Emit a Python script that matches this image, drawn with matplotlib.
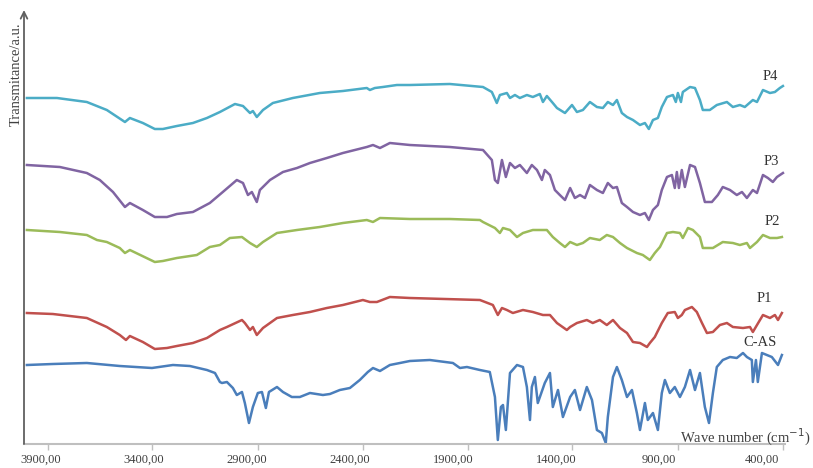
import matplotlib
matplotlib.use("Agg")
import matplotlib.pyplot as plt

plt.rcParams['font.family'] = ['Liberation Serif', 'DejaVu Serif']

# FTIR spectra, wave number (cm-1) and stacked transmittance (a.u.)
p4_wn = [3968, 3822, 3677, 3580, 3492, 3468, 3405, 3347, 3308, 3240, 3162, 3094, 3031, 2958,
         2919, 2885, 2871, 2852, 2822, 2774, 2677, 2546, 2434, 2318, 2303, 2279, 2240, 2172,
         2109, 1915, 1754, 1711, 1687, 1672, 1638, 1623, 1599, 1575, 1541, 1512, 1478, 1463,
         1444, 1415, 1395, 1356, 1322, 1298, 1269, 1235, 1201, 1172, 1148, 1123, 1104, 1080,
         1055, 1026, 992, 968, 949, 929, 905, 886, 861, 832, 818, 808, 793, 784, 749, 725, 701,
         687, 653, 619, 570, 541, 507, 483, 444, 424, 395, 361, 337, 313, 298]
p4_t = [346, 346, 342, 334, 322, 326, 321, 315, 315, 318, 321, 326, 332, 340,
        338, 331, 333, 327, 334, 341, 346, 351, 353, 356, 354, 356, 357, 359,
        359, 360, 357, 352, 341, 349, 351, 346, 349, 346, 349, 347, 350, 342,
        348, 341, 336, 331, 339, 332, 334, 342, 337, 336, 342, 339, 344, 331,
        327, 324, 319, 321, 315, 324, 326, 337, 347, 349, 342, 351, 342, 352, 357, 356, 344,
        334, 334, 339, 342, 337, 339, 337, 344, 342, 354, 351, 352, 356, 358]

p3_wn = [3968, 3808, 3677, 3614, 3550, 3492, 3468, 3405, 3347, 3288, 3240, 3162, 3080, 3017,
         2949, 2919, 2895, 2876, 2852, 2837, 2788, 2725, 2657, 2594, 2512, 2434, 2318, 2288,
         2254, 2206, 2109, 1915, 1754, 1711, 1696, 1682, 1662, 1643, 1623, 1599, 1575, 1541,
         1517, 1492, 1468, 1454, 1429, 1405, 1381, 1356, 1331, 1308, 1283, 1259, 1235, 1201,
         1172, 1148, 1123, 1104, 1080, 1055, 1026, 992, 968, 949, 929, 905, 886, 861, 837,
         823, 813, 803, 789, 774, 749, 725, 701, 677, 643, 614, 590, 555, 522, 497, 473, 444,
         424, 395, 371, 347, 327, 298]
p3_t = [279, 277, 271, 264, 252, 237, 241, 234, 227, 227, 230, 232, 241, 252,
        264, 261, 249, 252, 242, 254, 264, 272, 276, 281, 286, 291, 297, 299,
        296, 301, 299, 297, 294, 284, 264, 261, 284, 267, 281, 276, 279, 271,
        279, 274, 264, 274, 269, 254, 249, 244, 256, 246, 249, 246, 259, 254,
        251, 261, 256, 257, 241, 237, 232, 229, 231, 224, 234, 239, 254, 267, 269,
        256, 272, 256, 274, 257, 279, 277, 261, 242, 242, 249, 257, 254, 249, 252, 246, 254,
        251, 269, 266, 262, 267, 271]

p2_wn = [3968, 3808, 3677, 3628, 3580, 3517, 3492, 3468, 3347, 3308, 3240, 3143, 3080, 3031,
         2983, 2924, 2885, 2852, 2822, 2754, 2657, 2546, 2434, 2318, 2288, 2254, 2109, 1915,
         1769, 1754, 1696, 1672, 1657, 1623, 1589, 1560, 1512, 1478, 1444, 1415, 1381, 1356,
         1331, 1298, 1269, 1235, 1187, 1153, 1123, 1089, 1055, 1007, 978, 944, 920, 895, 861,
         832, 798, 784, 759, 735, 701, 687, 638, 590, 541, 507, 473, 458, 424, 395, 361, 327, 303]
p2_t = [214, 212, 209, 204, 202, 196, 191, 194, 182, 183, 186, 189, 197, 199,
        206, 207, 201, 197, 202, 211, 214, 217, 221, 224, 222, 226, 225, 225,
        224, 222, 216, 211, 216, 214, 207, 211, 214, 214, 214, 207, 201, 197,
        202, 199, 201, 206, 204, 209, 207, 201, 196, 191, 189, 184, 191, 197, 211,
        212, 211, 206, 216, 214, 207, 196, 196, 202, 201, 199, 201, 196, 202, 209, 206, 206, 207]

p1_wn = [3968, 3842, 3677, 3580, 3517, 3487, 3468, 3405, 3347, 3288, 3240, 3162, 3094, 3031,
         2997, 2924, 2910, 2885, 2871, 2852, 2822, 2754, 2677, 2594, 2512, 2434, 2337, 2303,
         2269, 2206, 2109, 1769, 1706, 1682, 1662, 1638, 1609, 1560, 1512, 1463, 1429, 1395,
         1347, 1331, 1298, 1250, 1221, 1187, 1153, 1123, 1089, 1055, 1026, 992, 958, 944, 920,
         886, 857, 823, 808, 789, 774, 740, 716, 691, 667, 638, 604, 570, 541, 492, 458, 444,
         424, 395, 361, 337, 322, 303]
p1_t = [131, 130, 126, 117, 109, 104, 108, 102, 95, 96, 98, 101, 106, 114,
        117, 124, 121, 114, 117, 109, 116, 126, 129, 132, 136, 139, 144, 142,
        142, 147, 146, 144, 139, 129, 136, 134, 131, 134, 132, 129, 129, 121,
        114, 117, 121, 124, 121, 124, 119, 124, 116, 111, 102, 101, 97, 101, 107,
        121, 131, 132, 126, 129, 134, 137, 132, 121, 111, 112, 119, 121, 117, 116, 117, 112,
        119, 129, 126, 129, 124, 131]

cas_wn = [3968, 3842, 3677, 3517, 3361, 3259, 3177, 3094, 3055, 3031, 3021, 2997, 2968, 2949,
          2924, 2910, 2890, 2871, 2847, 2827, 2808, 2793, 2754, 2725, 2682, 2643, 2594, 2531,
          2497, 2449, 2400, 2352, 2313, 2288, 2254, 2206, 2157, 2109, 2012, 1900, 1866, 1832,
          1769, 1721, 1696, 1682, 1667, 1657, 1643, 1623, 1589, 1560, 1541, 1526, 1517, 1502,
          1488, 1454, 1429, 1415, 1390, 1366, 1331, 1308, 1283, 1250, 1225, 1201, 1177, 1158,
          1148, 1123, 1104, 1080, 1055, 1031, 1007, 992, 968, 954, 929, 905, 886, 871, 847,
          823, 798, 774, 749, 725, 701, 677, 657, 638, 619, 590, 555, 522, 492, 473, 449, 444,
          429, 420, 400, 376, 352, 322, 303]
cas_t = [79, 80, 81, 78, 76, 79, 78, 74, 71, 62, 61, 62, 56, 49,
         52, 41, 21, 37, 51, 52, 36, 52, 57, 52, 47, 47, 51, 49,
         50, 54, 56, 64, 72, 76, 73, 79, 81, 83, 84, 81, 76, 77,
         74, 72, 47, 4, 37, 39, 14, 71, 79, 77, 57, 24, 57, 67,
         41, 61, 71, 37, 54, 27, 47, 54, 34, 57, 44, 14, 11, 1,
         27, 67, 77, 64, 47, 54, 31, 14, 41, 24, 31, 14, 51, 64, 51,
         57, 47, 57, 74, 54, 71, 37, 21, 51, 77, 84, 87, 86, 91, 87, 84, 62,
         84, 62, 91, 89, 87, 79, 89]

names = ['P4', 'P3', 'P2', 'P1', 'C-AS']
colors = ['#4BACC6', '#8064A2', '#9BBB59', '#C0504D', '#4A7EBB']
# where each sample name sits (wave number, a.u.)
label_x = [361, 352, 352, 386, 410]
label_y = [367, 282, 222, 146, 102]

tick_vals = [3900, 3400, 2900, 2400, 1900, 1400, 900, 400]
tick_marks = [3866, 3361, 2847, 2337, 1827, 1322, 808, 298]

fig = plt.figure(figsize=(8.13, 4.68), dpi=100)
ax = fig.add_axes([24 / 813, 24 / 468, 761 / 813, 434 / 468])

series = [(p4_wn, p4_t), (p3_wn, p3_t), (p2_wn, p2_t), (p1_wn, p1_t), (cas_wn, cas_t)]
for (wn, t), name, c, lx, ly in zip(series, names, colors, label_x, label_y):
    ax.plot(wn, t, color=c, lw=1.8, solid_joinstyle='round')
    ax.text(lx, ly, name, color='#333333', fontsize=10.5, ha='center', va='center')

ax.set_xlim(3982, 288)
ax.set_ylim(0, 434)

for s in ['top', 'right', 'left']:
    ax.spines[s].set_visible(False)
ax.spines['bottom'].set_color('#BFBFBF')
ax.spines['bottom'].set_linewidth(1.5)

ax.set_yticks([])
ax.set_xticks(tick_vals)
ax.set_xticklabels([f"{v},00" for v in tick_vals])
ax.set_xticks(tick_marks, minor=True)
ax.tick_params(axis='x', which='major', length=0, pad=7, labelsize=9, labelcolor='#404040')
ax.tick_params(axis='x', which='minor', length=4, width=1, color='#BFBFBF', direction='out')

# vertical axis drawn as an arrow
ax.annotate('', xy=(0, 1.0), xytext=(0, 0), xycoords='axes fraction',
            arrowprops=dict(arrowstyle='->', color='#606060', lw=1.3,
                            shrinkA=0, shrinkB=0, mutation_scale=12))

fig.text(16 / 813, 1 - 74 / 468, 'Transmitance/a.u.', rotation=90, ha='center',
         va='center', fontsize=10.5, color='#404040')
fig.text(811 / 813, 1 - 437 / 468, 'Wave number (cm$^{-1}$)',
         fontsize=10.5, color='#404040', ha='right', va='center')

fig.savefig('out.png', dpi=100)
